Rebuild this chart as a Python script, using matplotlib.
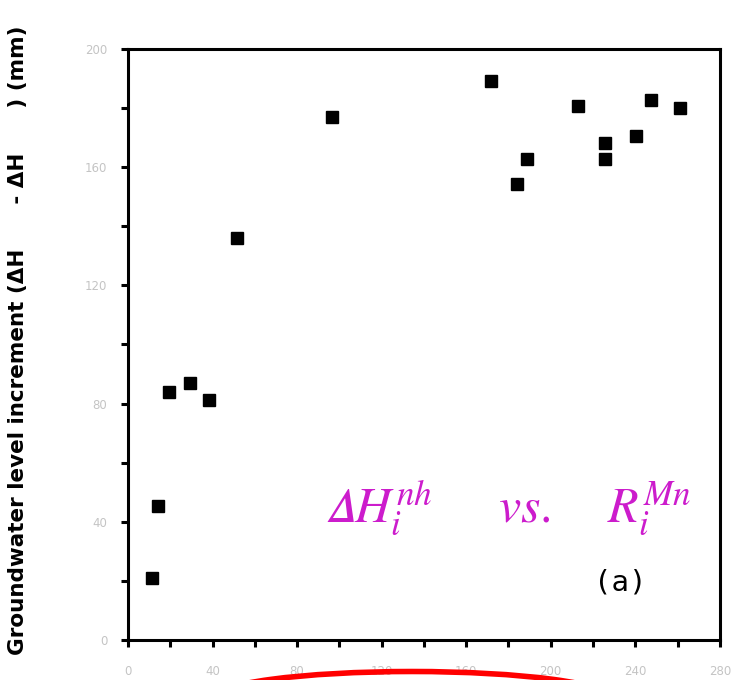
import matplotlib
matplotlib.use("Agg")
import matplotlib.pyplot as plt
from matplotlib.patches import Arc

# R_i^Mn (x) vs groundwater level increment (y)
r_mn = [11.4, 14.2, 19.4, 29.3, 38.3, 51.6, 96.5, 171.7, 184.0, 188.7,
        212.9, 225.6, 225.6, 240.3, 247.4, 261.1]
dh_nh = [21.0, 45.3, 83.9, 87.0, 81.2, 136.0, 177.0, 189.2, 154.3, 162.8,
         180.7, 168.2, 162.8, 170.6, 182.7, 180.0]

x_labels = [0, 40, 80, 120, 160, 200, 240, 280]
y_labels = [0, 40, 80, 120, 160, 200]

plt.rcParams['mathtext.fontset'] = 'stix'

fig = plt.figure(figsize=(7.33, 6.8), dpi=100)
ax = fig.add_axes([0.1746, 0.0588, 0.8074, 0.8692])

ax.plot(r_mn, dh_nh, 's', color='black', markersize=9, clip_on=False)

ax.set_xlim(0, 280)
ax.set_ylim(0, 200)
ax.set_xticks(x_labels)
ax.set_yticks(y_labels)
ax.set_xticks(range(0, 281, 20), minor=True)
ax.set_yticks(range(0, 201, 20), minor=True)
ax.tick_params(which='both', direction='out', length=5, width=2.2,
               colors='black', labelcolor='#c4c4c4', labelsize=8.5)
ax.tick_params(axis='x', pad=13)
ax.tick_params(axis='y', pad=10)
for sp in ax.spines.values():
    sp.set_linewidth(2.2)

# y label
fig.text(0.024, 0.5, "Groundwater level increment (ΔH      - ΔH      ) (mm)",
         rotation=90, ha='center', va='center', fontsize=15.5,
         fontweight='bold')

# magenta caption
mag = '#cc1ccc'
ax.text(0.333, 0.20, "$\U0001D6E5\\mathit{H}_{i}^{nh}$", transform=ax.transAxes,
        color=mag, fontsize=36, ha='left', va='baseline')
ax.text(0.625, 0.20, r"$\mathit{vs.}$", transform=ax.transAxes,
        color=mag, fontsize=36, ha='left', va='baseline')
ax.text(0.81, 0.20, r"$\mathit{R}_{i}^{Mn}$", transform=ax.transAxes,
        color=mag, fontsize=36, ha='left', va='baseline')

ax.text(0.832, 0.098, "(a)", transform=ax.transAxes, fontsize=21,
        family='DejaVu Sans Mono', ha='center', va='center')

# red arc at the bottom edge (cut off by the figure edge)
fig.add_artist(Arc((412 / 733, 1 - 698.5 / 680), 400 / 733, 54 / 680,
                   theta1=0, theta2=180, color='red', linewidth=4,
                   transform=fig.transFigure, clip_on=False))

fig.savefig("out.png", dpi=100)
